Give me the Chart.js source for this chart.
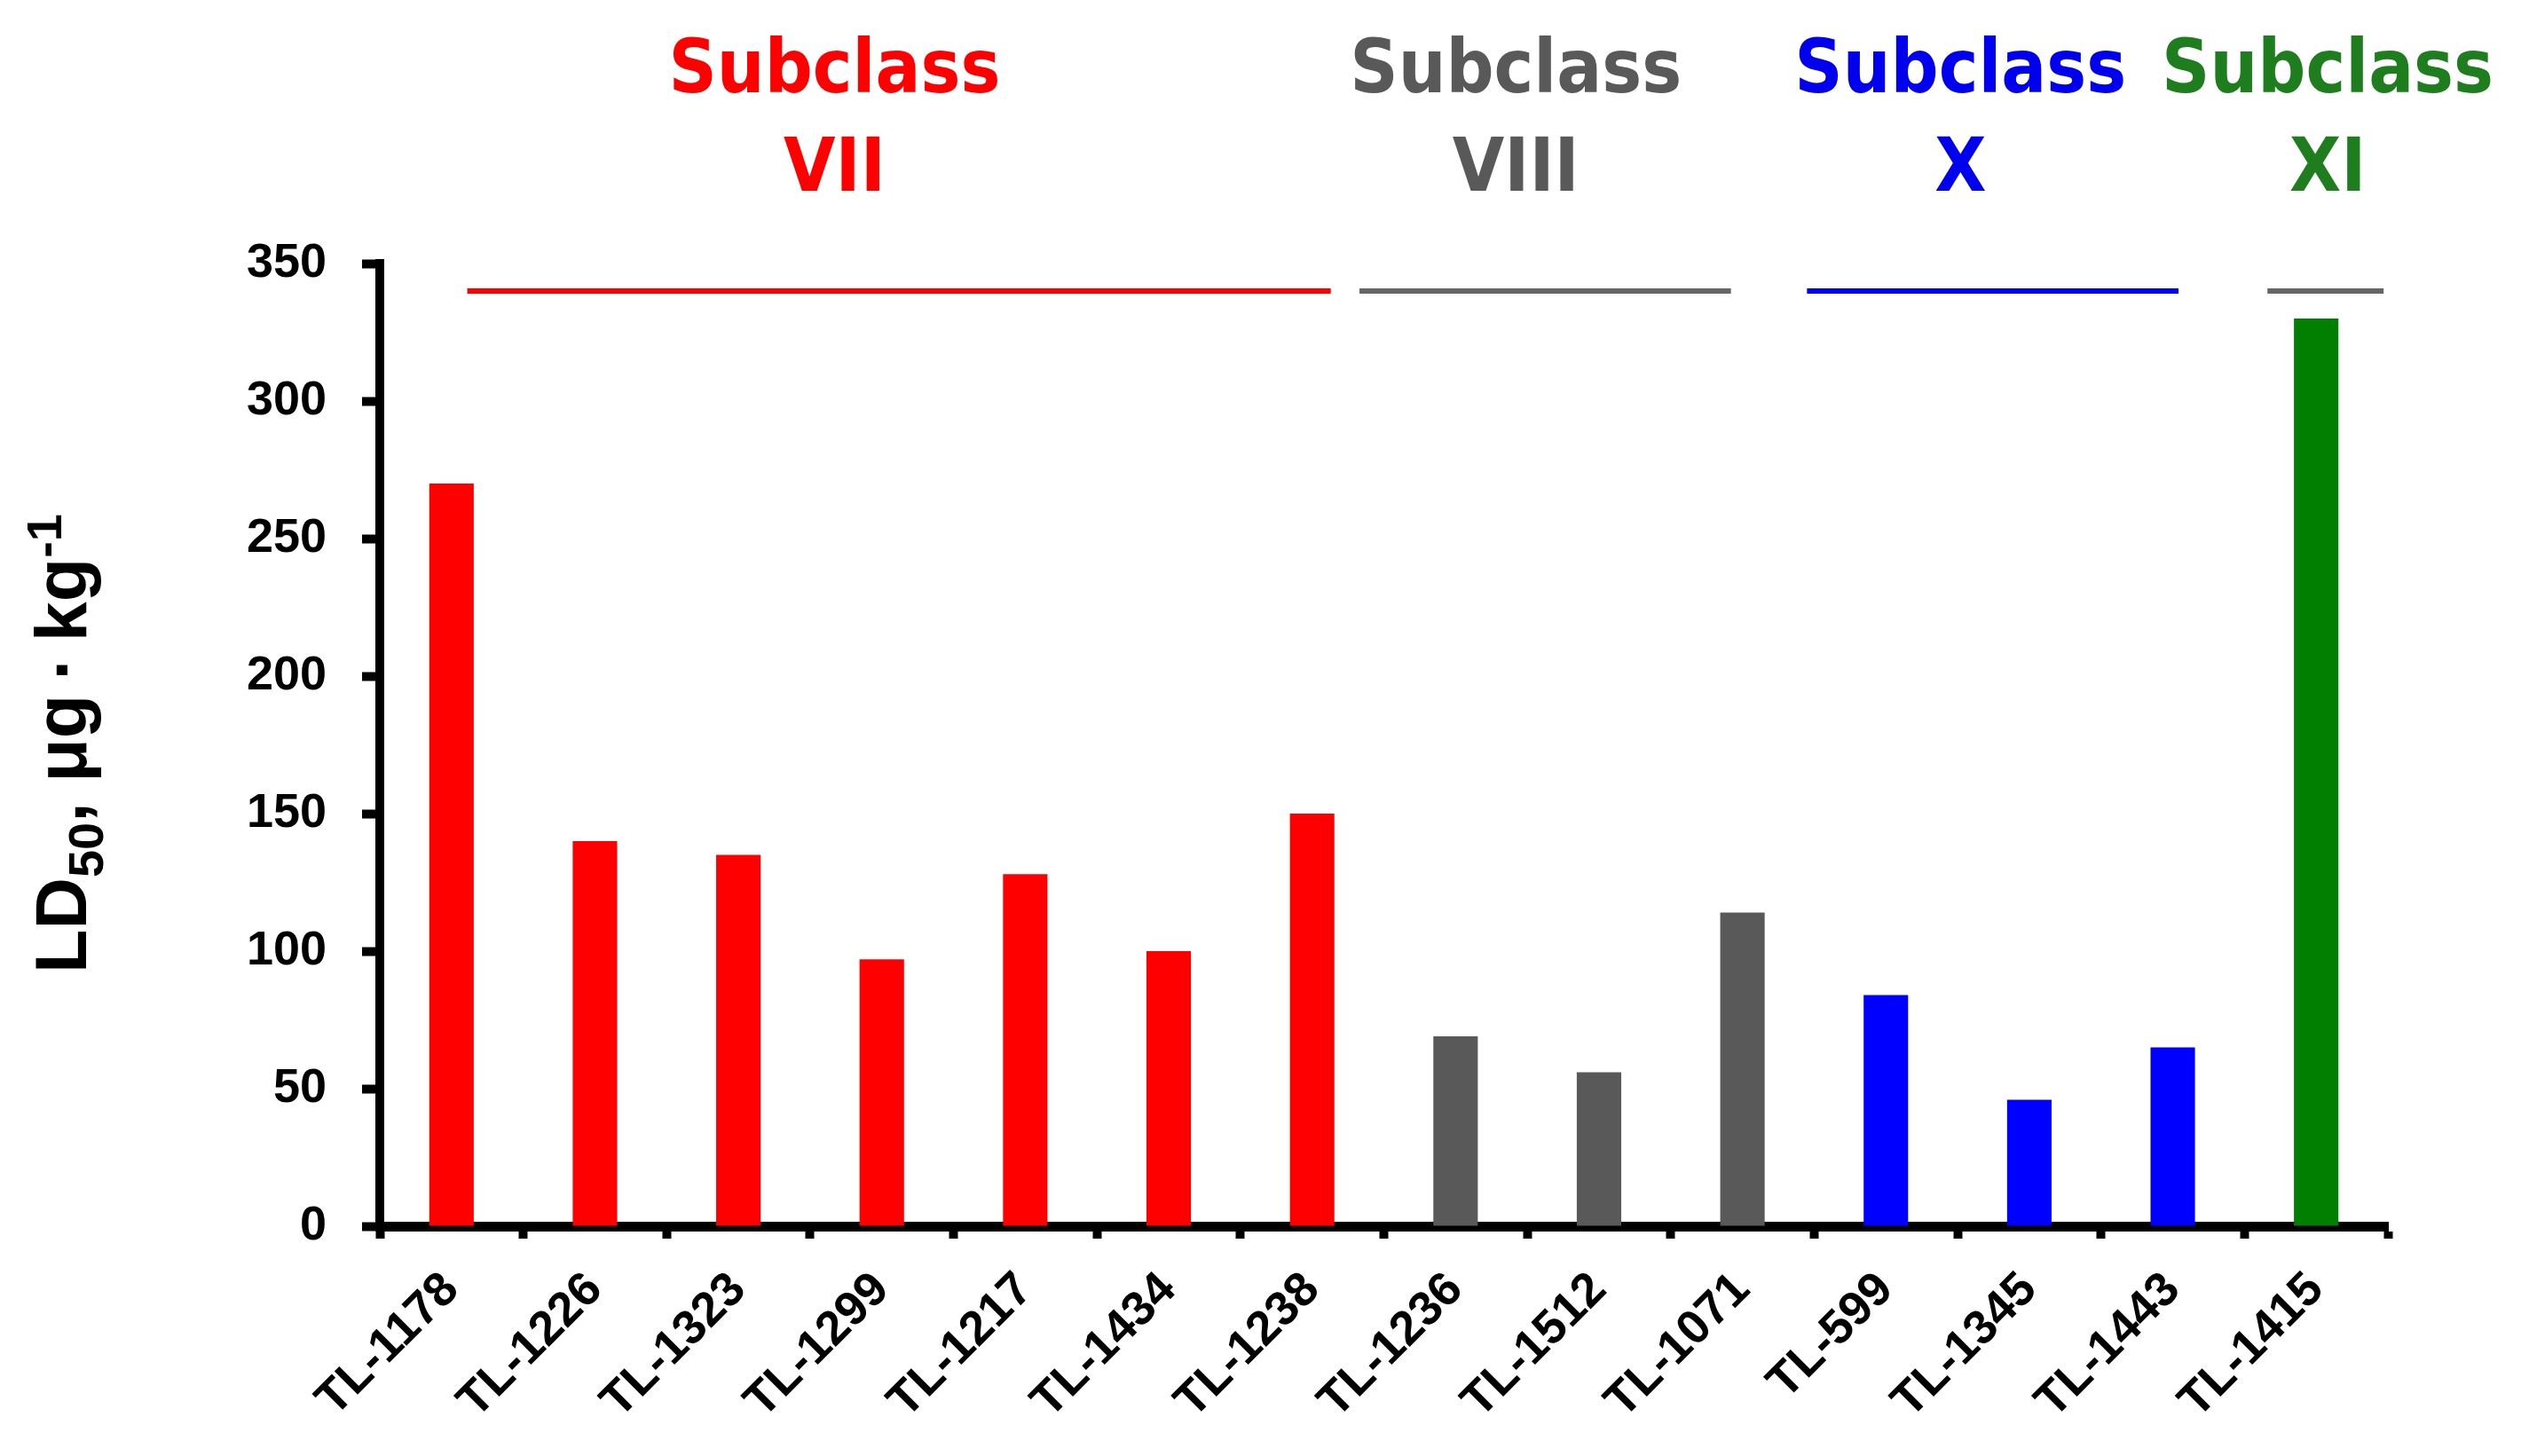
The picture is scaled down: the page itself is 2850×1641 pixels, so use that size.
<!DOCTYPE html>
<html>
<head>
<meta charset="utf-8">
<script src="https://cdn.jsdelivr.net/npm/chart.js@4.4.0/dist/chart.umd.min.js"></script>
<style>
html,body{margin:0;padding:0;background:#fff;}
#wrap{width:2850px;height:1641px;}
</style>
</head>
<body>
<div id="wrap"><canvas id="c" width="2850" height="1641"></canvas></div>
<script>
// ---- data ----
const categories = ['TL-1178','TL-1226','TL-1323','TL-1299','TL-1217','TL-1434','TL-1238',
                    'TL-1236','TL-1512','TL-1071','TL-599','TL-1345','TL-1443','TL-1415'];
const ld50Values = [270, 140, 135, 97, 128, 100, 150, 69, 56, 114, 84, 46, 65, 330];
const subclassOf = [0,0,0,0,0,0,0,1,1,1,2,2,2,3];
const subclassNames = ['VII','VIII','X','XI'];
const yTicks = [0, 50, 100, 150, 200, 250, 300, 350];
const bracketValue = 340;
const bracketStart = [0.11, 6.33, 9.45, 12.66];
const bracketEnd   = [6.13, 8.92, 12.04, 13.47];

// ---- styling (kept apart from data) ----
const barColors     = ['#FF0000', '#595959', '#0000FF', '#007F00'];
const titleColors   = ['#FF0000', '#595959', '#0000EE', '#1E7E1E'];
const bracketColors = ['#FF0000', '#666666', '#0000FF', '#666666'];
const labelCenters  = [2.67, 7.42, 10.52, 13.08];

const titlePlugin = {
  id: 'titles',
  afterDraw(chart) {
    const ctx = chart.ctx;
    const xs = chart.scales.x;
    // subclass headers
    ctx.save();
    ctx.textAlign = 'center';
    ctx.textBaseline = 'alphabetic';
    ctx.font = "bold 84px 'DejaVu Sans Condensed', 'DejaVu Sans'";
    subclassNames.forEach((name, k) => {
      const px = xs.getPixelForValue(labelCenters[k]);
      ctx.fillStyle = titleColors[k];
      ctx.fillText('Subclass', px, 104);
      ctx.fillText(name, px, 215);
    });
    ctx.restore();

    // y-axis title with subscript / superscript
    const parts = [
      {t: 'LD', s: 81, dy: 0},
      {t: '50', s: 56, dy: 19},
      {t: ', \u03BCg\u2009\u00B7\u2009kg', s: 81, dy: 0},
      {t: '-1', s: 56, dy: -28}
    ];
    ctx.save();
    ctx.fillStyle = '#000';
    ctx.textBaseline = 'alphabetic';
    ctx.textAlign = 'left';
    let total = 0;
    parts.forEach(p => {
      ctx.font = "bold " + p.s + "px 'Liberation Sans', Arial, sans-serif";
      p.w = ctx.measureText(p.t).width;
      total += p.w;
    });
    ctx.translate(97, 838);
    ctx.rotate(-Math.PI / 2);
    let cx = -total / 2;
    parts.forEach(p => {
      ctx.font = "bold " + p.s + "px 'Liberation Sans', Arial, sans-serif";
      ctx.fillText(p.t, cx, p.dy);
      cx += p.w;
    });
    ctx.restore();
  }
};

const datasets = [{
  type: 'bar',
  data: ld50Values,
  backgroundColor: ld50Values.map((v, i) => barColors[subclassOf[i]]),
  barPercentage: 0.31,
  categoryPercentage: 1.0,
  grouped: false,
  xAxisID: 'x',
  yAxisID: 'y',
  order: 2
}];
bracketStart.forEach((s, k) => {
  datasets.push({
    type: 'line',
    data: [{x: s, y: bracketValue}, {x: bracketEnd[k], y: bracketValue}],
    xAxisID: 'x2',
    yAxisID: 'y',
    borderColor: bracketColors[k],
    borderWidth: 6,
    pointRadius: 0,
    borderCapStyle: 'butt',
    fill: false,
    order: 1
  });
});

new Chart(document.getElementById('c').getContext('2d'), {
  type: 'bar',
  data: {labels: categories, datasets},
  options: {
    responsive: false,
    animation: false,
    devicePixelRatio: 1,
    layout: {padding: {top: 297, right: 159, left: 0, bottom: 0}},
    plugins: {legend: {display: false}, tooltip: {enabled: false}},
    scales: {
      x: {
        type: 'category',
        offset: true,
        grid: {offset: true, drawOnChartArea: false, drawTicks: true, tickLength: 14, tickWidth: 10, tickColor: '#000'},
        border: {display: true, color: '#000', width: 11},
        ticks: {
          minRotation: 45, maxRotation: 45, autoSkip: false,
          color: '#000', padding: 26,
          font: {family: "'Liberation Sans', Arial, sans-serif", weight: 'bold', size: 54}
        },
        afterFit(s) { s.height = 1641 - 1382; }
      },
      x2: {
        type: 'linear', display: false, min: -0.5, max: 13.5,
        offset: false, grace: 0, bounds: 'data',
        grid: {offset: false}
      },
      y: {
        min: 0, max: 350,
        afterBuildTicks(s) { s.ticks = yTicks.map(v => ({value: v})); },
        grid: {drawOnChartArea: false, drawTicks: true, tickLength: 20, tickWidth: 10, tickColor: '#000'},
        border: {display: true, color: '#000', width: 10},
        ticks: {color: '#000', padding: 40, font: {family: "'Liberation Sans', Arial, sans-serif", weight: 'bold', size: 54}},
        afterFit(s) { s.width = 428; }
      }
    }
  },
  plugins: [titlePlugin]
});
</script>
</body>
</html>
